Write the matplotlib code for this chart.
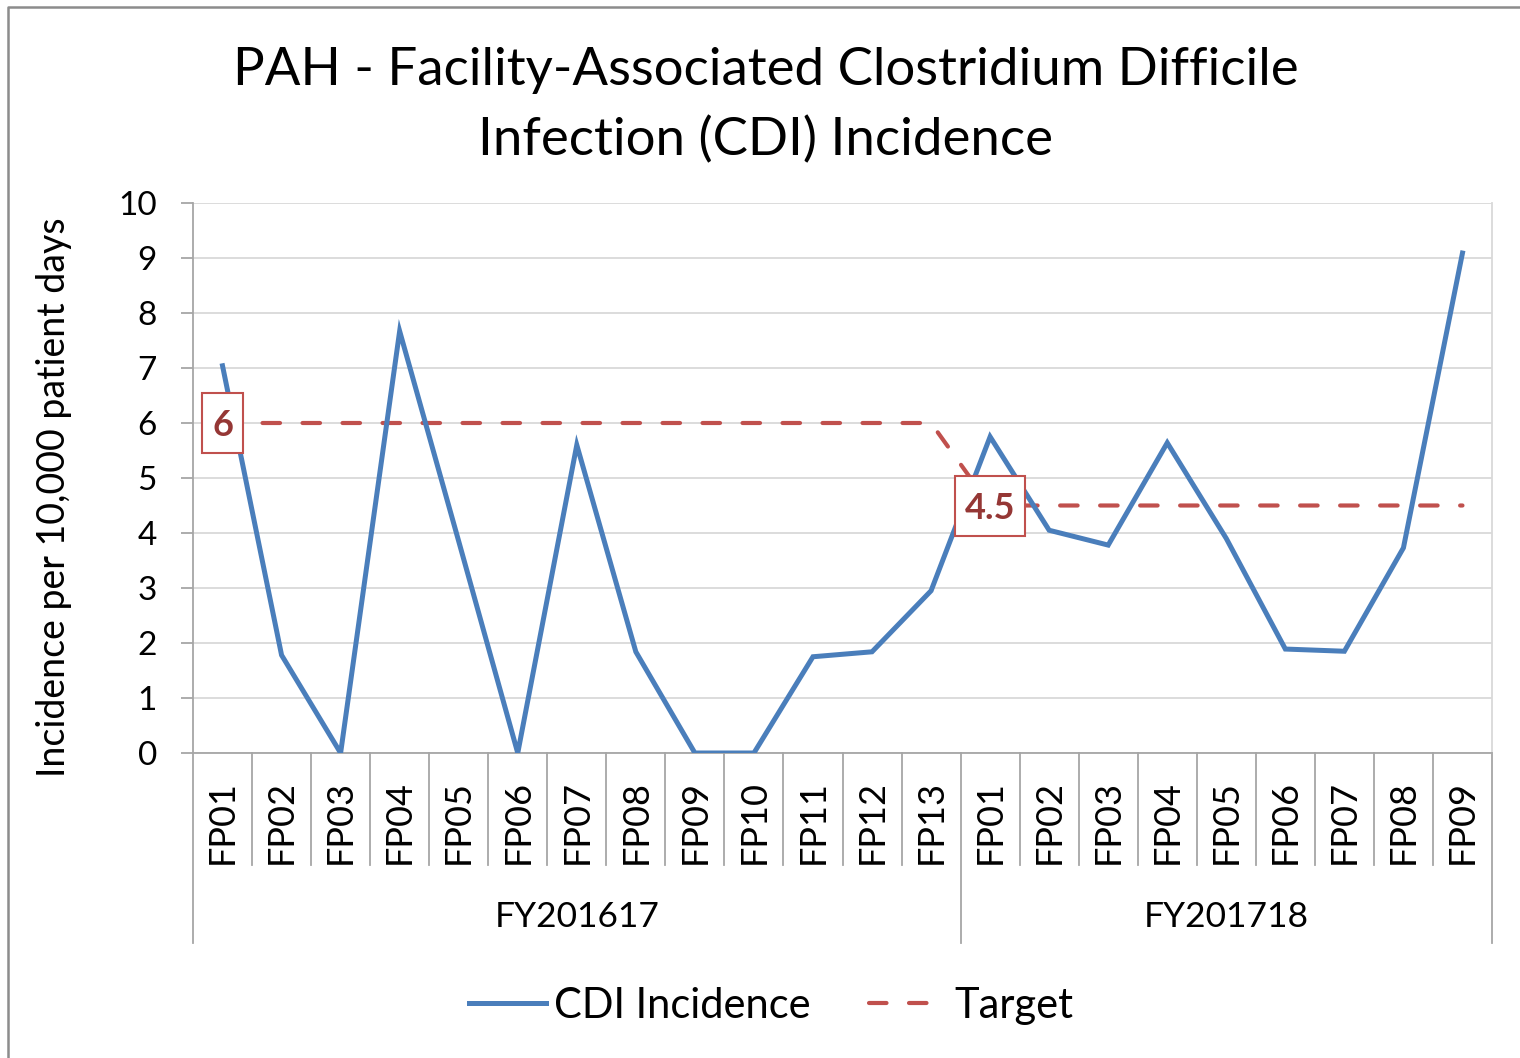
import matplotlib
matplotlib.use("Agg")
import matplotlib.pyplot as plt
from matplotlib.lines import Line2D
from matplotlib.patches import Rectangle
import matplotlib.transforms as mtransforms

plt.rcParams['font.family'] = ['Lato', 'DejaVu Sans']

# ---- data ----
periods_1617 = ["FP01", "FP02", "FP03", "FP04", "FP05", "FP06", "FP07",
                "FP08", "FP09", "FP10", "FP11", "FP12", "FP13"]
periods_1718 = ["FP01", "FP02", "FP03", "FP04", "FP05", "FP06", "FP07",
                "FP08", "FP09"]
groups = ["FY201617", "FY201718"]
cdi_1617 = [7.04, 1.78, 0.0, 7.67, 3.85, 0.0, 5.6, 1.84, 0.0, 0.0, 1.75, 1.84, 2.95]
cdi_1718 = [5.75, 4.05, 3.78, 5.64, 3.9, 1.89, 1.85, 3.73, 9.09]
target_1617 = [6] * len(periods_1617)
target_1718 = [4.5] * len(periods_1718)
target_labels = {"FY201617": "6", "FY201718": "4.5"}

categories = periods_1617 + periods_1718
cdi = cdi_1617 + cdi_1718
target = target_1617 + target_1718
x = list(range(len(categories)))

BLUE = "#4a7ebb"
RED = "#c0504d"
DARKRED = "#953735"
GRID = "#d9d9d9"
AXIS = "#a6a6a6"

fig = plt.figure(figsize=(15.2, 10.58), dpi=100)
W, H = 1520, 1058
ax = fig.add_axes([193 / W, 1 - 753 / H, (1492 - 193) / W, (753 - 203) / H])

ax.plot(x, cdi, color=BLUE, lw=3.6, solid_joinstyle='miter', zorder=3,
        label="CDI Incidence")
ax.plot(x, target, color=RED, lw=3.0, dashes=(4.2, 5.4), dash_capstyle='round',
        zorder=2, label="Target")

ax.set_xlim(-0.5, len(categories) - 0.5)
ax.set_ylim(0, 10)
ax.set_yticks(range(0, 11))
ax.yaxis.grid(True, color=GRID, lw=1.3)
ax.set_axisbelow(True)
ax.spines["top"].set_visible(False)
ax.spines["right"].set_color(GRID)
ax.spines["right"].set_linewidth(1.3)
ax.spines["left"].set_color(AXIS)
ax.spines["bottom"].set_color(AXIS)
ax.spines["left"].set_linewidth(1.3)
ax.spines["bottom"].set_linewidth(1.3)
ax.tick_params(axis='y', length=9, width=1.3, color=AXIS, labelsize=24, pad=17)
ax.set_xticks([])
ax.set_ylabel("Incidence per 10,000 patient days", fontsize=27)
ax.yaxis.set_label_coords((72 - 193) / (1492 - 193), (753 - 497) / (753 - 203))

# category axis labels and separators
trans = mtransforms.blended_transform_factory(ax.transData, ax.transAxes)
ax_h = 753 - 203
for i, lab in enumerate(categories):
    ax.text(i, -(780 - 753) / ax_h, lab, rotation=90, ha='center', va='top',
            fontsize=26, transform=trans)
n1 = len(periods_1617)
for b in range(len(categories) + 1):
    xb = b - 0.5
    if b in (0, n1, len(categories)):
        y_end = -(943 - 753) / ax_h
    else:
        y_end = -(865 - 753) / ax_h
    ax.add_line(Line2D([xb, xb], [0, y_end], transform=trans, color=AXIS,
                       lw=1.3, clip_on=False))
group_centers = [(n1 - 1) / 2, n1 + (len(periods_1718) - 1) / 2]
for g, c in zip(groups, group_centers):
    ax.text(c, -(917 - 753) / ax_h, g, ha='center', va='center', fontsize=25.5,
            transform=trans)

# target data labels (text + box drawn around the data point)
fig.canvas.draw()
renderer = fig.canvas.get_renderer()
for g, idx, val in [("FY201617", 0, target_1617[0]), ("FY201718", n1, target_1718[0])]:
    t = ax.text(idx, val, target_labels[g], ha='center', va='center_baseline',
                fontsize=26, fontweight='bold', color=DARKRED, zorder=6)
    tw = t.get_window_extent(renderer).width / fig.dpi  # inches
    bw = tw + 20 / fig.dpi
    bh = 60 / fig.dpi
    off = mtransforms.ScaledTranslation(idx, val, ax.transData)
    rect = Rectangle((-bw / 2, -bh / 2), bw, bh, transform=fig.dpi_scale_trans + off,
                     fc='white', ec=RED, lw=1.5, zorder=5)
    ax.add_patch(rect)

# title
fig.text(766 / W, 1 - 106 / H,
         "PAH - Facility-Associated Clostridium Difficile\nInfection (CDI) Incidence",
         ha='center', va='center', fontsize=38, linespacing=1.55)

# legend
leg = fig.legend(loc='center', bbox_to_anchor=(771 / W, 1 - 1006 / H), ncol=2,
                 frameon=False, fontsize=30, handlelength=1.85, columnspacing=1.4,
                 handletextpad=0.2)

# outer border (partially visible)
fig.add_artist(Line2D([8 / W, 8 / W, 1.0], [0.0, 1 - 7 / H, 1 - 7 / H],
                      transform=fig.transFigure, color="#8c8c8c", lw=1.8))

fig.savefig("out.png", dpi=100, facecolor='white')
